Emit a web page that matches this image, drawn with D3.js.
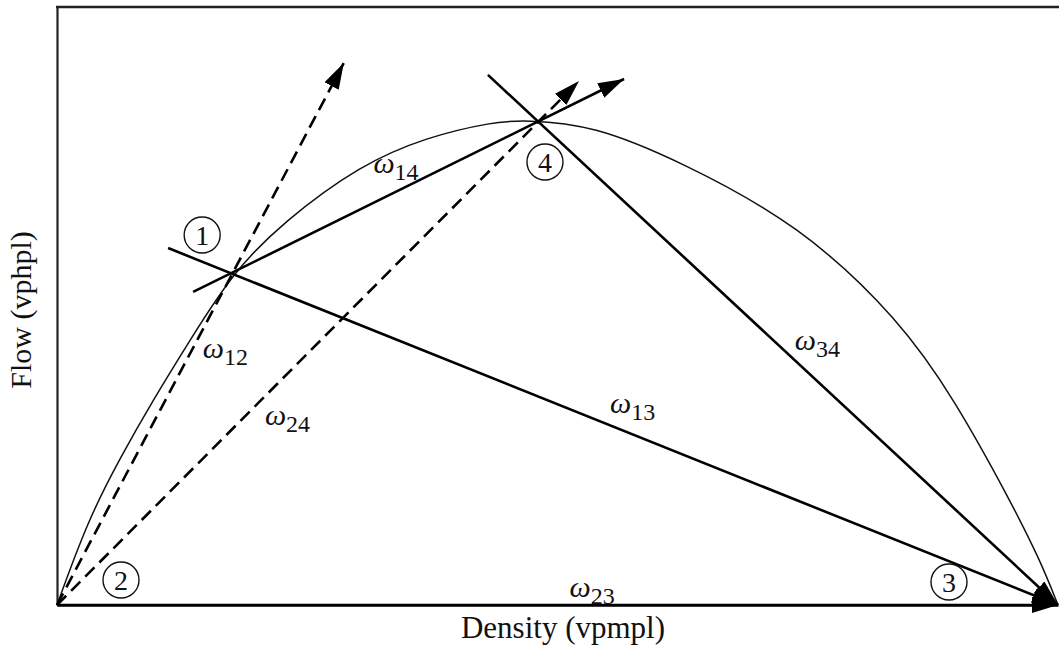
<!DOCTYPE html>
<html>
<head>
<meta charset="utf-8">
<script src="https://cdn.jsdelivr.net/npm/d3@7"></script>
<style>
  body { margin: 0; background: #fff; }
  svg { display: block; font-family: "Liberation Serif", "DejaVu Serif", serif; }
</style>
</head>
<body>
<svg width="1059" height="652"></svg>
<script>
// flow-density curve (density vpmpl, flow vphpl)
var curveK = [0, 6.2, 12.6, 19.2, 26.6, 35.2, 45.2, 60.5, 73.9, 87.1, 93.5, 107.1, 124.5, 148.5, 168.4, 179.4, 190.4, 196.4, 200];
var curveQ = [0, 351, 606, 845, 1093, 1373, 1579, 1814, 1930, 1992, 2000, 1979, 1830, 1567, 1175, 845, 433, 186, 0];

// traffic states 1..4
var stateNames = ["1", "2", "3", "4"];
var stateK = [35.2, 0, 200, 96.1];
var stateQ = [1373, 0, 0, 1996];

// shock / rarefaction waves
var waveNames = ["14", "12", "24", "13", "34", "23"];
var waveFrom = [[27.2, 1291], [0, 0], [0, 0], [22.2, 1472], [86.1, 2186], [0, 0]];
var waveTo = [[113.3, 2169], [57.3, 2235], [104.3, 2161], [200, 0], [200, 0], [200, 0]];
var waveDashed = [false, true, true, false, false, false];
// which two states each label sits between
var waveStates = [[0, 3], [1, 0], [1, 3], [0, 2], [3, 2], [1, 2]];

var frameTopQ = 2466;

var svg = d3.select("svg"),
    width = +svg.attr("width"),
    height = +svg.attr("height");

var x = d3.scaleLinear().domain([0, 200]).range([57, 1058]);
var y = d3.scaleLinear().domain([0, frameTopQ]).range([605, 7]);

svg.append("defs").append("marker")
    .attr("id", "arrow")
    .attr("viewBox", "0 -8 26 16")
    .attr("markerWidth", 26)
    .attr("markerHeight", 16)
    .attr("refX", 26)
    .attr("refY", 0)
    .attr("orient", "auto")
    .attr("markerUnits", "userSpaceOnUse")
  .append("path")
    .attr("d", "M0,-8L26,0L0,8Z")
    .attr("fill", "#000");

// frame: left axis, bottom axis, top border
svg.append("g")
    .attr("transform", "translate(" + x(0) + ",0)")
    .call(d3.axisLeft(y).tickValues([]).tickSizeOuter(0))
    .select(".domain").attr("stroke", "#222").attr("stroke-width", 2.2);

svg.append("g")
    .attr("transform", "translate(0," + y(0) + ")")
    .call(d3.axisBottom(x).tickValues([]).tickSizeOuter(0))
    .select(".domain").attr("stroke", "#111").attr("stroke-width", 2.6);

svg.append("line")
    .attr("x1", x(0) - 1).attr("x2", width + 5)
    .attr("y1", y(frameTopQ)).attr("y2", y(frameTopQ))
    .attr("stroke", "#222").attr("stroke-width", 2.4);

// fundamental diagram curve
var curveData = curveK.map(function(k, i) { return [k, curveQ[i]]; });
svg.append("path")
    .datum(curveData)
    .attr("fill", "none")
    .attr("stroke", "#111")
    .attr("stroke-width", 1.5)
    .attr("d", d3.line()
        .x(function(d) { return x(d[0]); })
        .y(function(d) { return y(d[1]); })
        .curve(d3.curveBasis));

// waves
svg.append("g")
  .selectAll("line")
  .data(waveNames)
  .enter().append("line")
    .attr("x1", function(d, i) { return x(waveFrom[i][0]); })
    .attr("y1", function(d, i) { return y(waveFrom[i][1]); })
    .attr("x2", function(d, i) { return x(waveTo[i][0]); })
    .attr("y2", function(d, i) { return y(waveTo[i][1]); })
    .attr("stroke", "#000")
    .attr("stroke-width", 2.6)
    .attr("stroke-dasharray", function(d, i) { return waveDashed[i] ? "13,7" : null; })
    .attr("marker-end", function(d, i) { return i == 0 || waveDashed[i] || waveTo[i][0] == 200 ? "url(#arrow)" : null; });

// wave labels: fraction along the state pair, then pixel nudge
var waveLabelT = [0.46, 0.742, 0.372, 0.457, 0.494, 0.512];
var waveLabelNudge = [[0, -30], [15, 0], [29, 0], [0, -11], [0, -10], [0, -8]];

var wl = svg.append("g")
  .selectAll("text")
  .data(waveNames)
  .enter().append("text")
    .attr("x", function(d, i) {
      var a = waveStates[i][0], b = waveStates[i][1], t = waveLabelT[i];
      return x(stateK[a]) + t * (x(stateK[b]) - x(stateK[a])) + waveLabelNudge[i][0];
    })
    .attr("y", function(d, i) {
      var a = waveStates[i][0], b = waveStates[i][1], t = waveLabelT[i];
      return y(stateQ[a]) + t * (y(stateQ[b]) - y(stateQ[a])) + waveLabelNudge[i][1];
    })
    .attr("fill", "#111");

wl.append("tspan")
    .attr("font-style", "italic")
    .attr("font-size", 30)
    .text("\u03c9");
wl.append("tspan")
    .attr("font-size", 24)
    .attr("dy", 7)
    .text(function(d) { return d; });

// circled state numbers
var stateLabelNudge = [[-31, -37], [64, -25], [-109, -23], [7, 41]];

var st = svg.append("g")
  .selectAll("g")
  .data(stateNames)
  .enter().append("g")
    .attr("transform", function(d, i) {
      return "translate(" + (x(stateK[i]) + stateLabelNudge[i][0]) + "," + (y(stateQ[i]) + stateLabelNudge[i][1]) + ")";
    });

st.append("circle")
    .attr("r", 18)
    .attr("fill", "#fff")
    .attr("stroke", "#111")
    .attr("stroke-width", 1.4);

st.append("text")
    .attr("text-anchor", "middle")
    .attr("dy", 10)
    .attr("font-size", 28)
    .attr("fill", "#111")
    .text(function(d) { return d; });

// axis titles
svg.append("text")
    .attr("x", 563)
    .attr("y", 638)
    .attr("text-anchor", "middle")
    .attr("font-size", 31)
    .attr("fill", "#111")
    .text("Density (vpmpl)");

svg.append("text")
    .attr("transform", "translate(31,310) rotate(-90)")
    .attr("text-anchor", "middle")
    .attr("font-size", 30)
    .attr("fill", "#111")
    .text("Flow (vphpl)");
</script>
</body>
</html>
